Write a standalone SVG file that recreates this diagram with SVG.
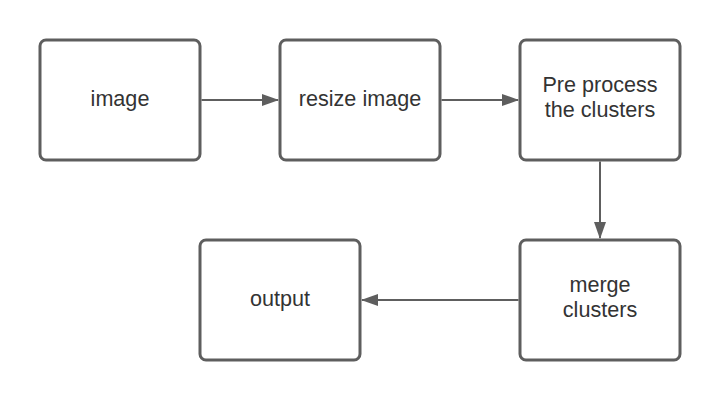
<svg xmlns="http://www.w3.org/2000/svg" width="720" height="400" viewBox="0 0 720 400">
<style>
.box{fill:#ffffff;stroke:#5e5e5e;stroke-width:3}
.lbl{font-family:"Liberation Sans",Arial,sans-serif;font-size:21.6px;fill:#333333;text-anchor:middle}
.con{stroke:#5e5e5e;stroke-width:2;fill:none}
.head{fill:#5e5e5e}
</style>
<defs>
<marker id="arr" viewBox="0 0 17 12" refX="16" refY="6" markerWidth="17" markerHeight="12" markerUnits="userSpaceOnUse" orient="auto">
<path class="head" d="M0,0 L17,6 L0,12 Z"/>
</marker>
</defs>
<rect width="720" height="400" fill="#ffffff"/>
<g id="connectors">
<line class="con" x1="201.5" y1="100" x2="278" y2="100" marker-end="url(#arr)"/>
<line class="con" x1="441.5" y1="100" x2="518" y2="100" marker-end="url(#arr)"/>
<line class="con" x1="600" y1="161.5" x2="600" y2="238" marker-end="url(#arr)"/>
<line class="con" x1="518.5" y1="300" x2="362" y2="300" marker-end="url(#arr)"/>
</g>
<g id="node-image">
<rect class="box" x="40" y="40" width="160" height="120" rx="6"/>
<text class="lbl" x="120" y="106">image</text>
</g>
<g id="node-resize">
<rect class="box" x="280" y="40" width="160" height="120" rx="6"/>
<text class="lbl" x="360" y="106">resize image</text>
</g>
<g id="node-preprocess">
<rect class="box" x="520" y="40" width="160" height="120" rx="6"/>
<text class="lbl" x="600" y="91.7">Pre process</text>
<text class="lbl" x="600" y="116.7">the clusters</text>
</g>
<g id="node-merge">
<rect class="box" x="520" y="240" width="160" height="120" rx="6"/>
<text class="lbl" x="600" y="291.7">merge</text>
<text class="lbl" x="600" y="316.7">clusters</text>
</g>
<g id="node-output">
<rect class="box" x="200" y="240" width="160" height="120" rx="6"/>
<text class="lbl" x="280" y="306">output</text>
</g>
</svg>
